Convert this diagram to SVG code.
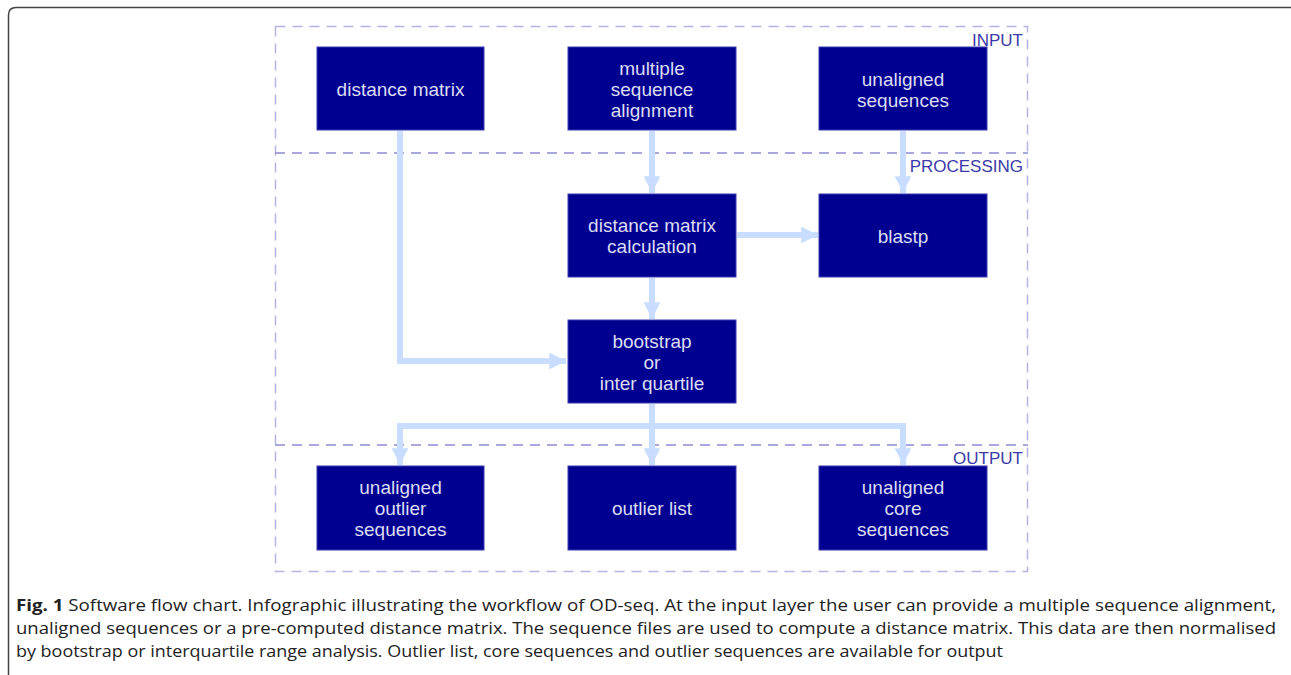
<svg xmlns="http://www.w3.org/2000/svg" width="1291" height="675" viewBox="0 0 1291 675">
<style>
.box{fill:#000090;stroke:#3a3ab0;stroke-width:1}
.bt{font-family:"Liberation Sans",Arial,sans-serif;font-size:19px;fill:#dcdcf4;text-anchor:middle}
.lay{font-family:"Liberation Sans",Arial,sans-serif;font-size:17px;fill:#3a3aa8;text-anchor:end}
.dash{fill:none;stroke:#b4b4e4;stroke-width:1.5;stroke-dasharray:10 7}
.div{fill:none;stroke:#8c8cd4;stroke-width:1.5;stroke-dasharray:10 7}
.con{fill:none;stroke:#c8ddff;stroke-width:6}
.cap{font-family:"Open Sans","Liberation Sans",sans-serif;font-size:16px;fill:#222}
</style>
<defs>
<marker id="ah" viewBox="0 0 10 10" refX="10" refY="5" markerWidth="2.8" markerHeight="2.8" orient="auto" markerUnits="strokeWidth">
<path d="M0,0 L10,5 L0,10 z" fill="#c8ddff"/>
</marker>
</defs>
<rect width="1291" height="675" fill="#fff"/>
<path d="M8.5,675 V15 Q8.5,7.5 16,7.5 H1291" fill="none" stroke="#444" stroke-width="1.5"/>
<g id="layers">
<rect class="dash" x="275.5" y="26.5" width="752" height="545"/>
<line class="div" x1="275" y1="153" x2="1028" y2="153"/>
<line class="div" x1="275" y1="445" x2="1028" y2="445"/>
<text class="lay" x="1023" y="46">INPUT</text>
<text class="lay" x="1023" y="172">PROCESSING</text>
<text class="lay" x="1023" y="464">OUTPUT</text>
</g>
<g id="connectors">
<path class="con" d="M400,131 V361 H566" marker-end="url(#ah)"/>
<path class="con" d="M652,131 V193" marker-end="url(#ah)"/>
<path class="con" d="M903,131 V193" marker-end="url(#ah)"/>
<path class="con" d="M737,235 H818" marker-end="url(#ah)"/>
<path class="con" d="M652,278 V319" marker-end="url(#ah)"/>
<path class="con" d="M652,404 V465" marker-end="url(#ah)"/>
<path class="con" d="M400,465 V426 H903 V465" marker-end="url(#ah)"/>
<path class="con" d="M400,426 V465" marker-end="url(#ah)"/>
</g>
<g id="n_distance_matrix"><rect class="box" x="317" y="47" width="167" height="83"/><text class="bt" x="400.5" y="96">distance matrix</text></g>
<g id="n_msa"><rect class="box" x="568" y="47" width="168" height="83"/><text class="bt" x="652" y="75">multiple</text><text class="bt" x="652" y="96">sequence</text><text class="bt" x="652" y="117">alignment</text></g>
<g id="n_unaligned"><rect class="box" x="819" y="47" width="168" height="83"/><text class="bt" x="903" y="86">unaligned</text><text class="bt" x="903" y="107">sequences</text></g>
<g id="n_dmc"><rect class="box" x="568" y="194" width="168" height="83"/><text class="bt" x="652" y="232">distance matrix</text><text class="bt" x="652" y="253">calculation</text></g>
<g id="n_blastp"><rect class="box" x="819" y="194" width="168" height="83"/><text class="bt" x="903" y="243">blastp</text></g>
<g id="n_bootstrap"><rect class="box" x="568" y="320" width="168" height="83"/><text class="bt" x="652" y="348">bootstrap</text><text class="bt" x="652" y="369">or</text><text class="bt" x="652" y="390">inter quartile</text></g>
<g id="n_out_outlier_seq"><rect class="box" x="317" y="466" width="167" height="84"/><text class="bt" x="400.5" y="494">unaligned</text><text class="bt" x="400.5" y="515">outlier</text><text class="bt" x="400.5" y="536">sequences</text></g>
<g id="n_outlier_list"><rect class="box" x="568" y="466" width="168" height="84"/><text class="bt" x="652" y="515">outlier list</text></g>
<g id="n_core_seq"><rect class="box" x="819" y="466" width="168" height="84"/><text class="bt" x="903" y="494">unaligned</text><text class="bt" x="903" y="515">core</text><text class="bt" x="903" y="536">sequences</text></g>
<g id="caption">
<text class="cap" x="16" y="611" textLength="1260" lengthAdjust="spacingAndGlyphs"><tspan font-weight="bold">Fig. 1</tspan> Software flow chart. Infographic illustrating the workflow of OD-seq. At the input layer the user can provide a multiple sequence alignment,</text>
<text class="cap" x="16" y="634" textLength="1260" lengthAdjust="spacingAndGlyphs">unaligned sequences or a pre-computed distance matrix. The sequence files are used to compute a distance matrix. This data are then normalised</text>
<text class="cap" x="16" y="657" textLength="987" lengthAdjust="spacingAndGlyphs">by bootstrap or interquartile range analysis. Outlier list, core sequences and outlier sequences are available for output</text>
</g>
</svg>
